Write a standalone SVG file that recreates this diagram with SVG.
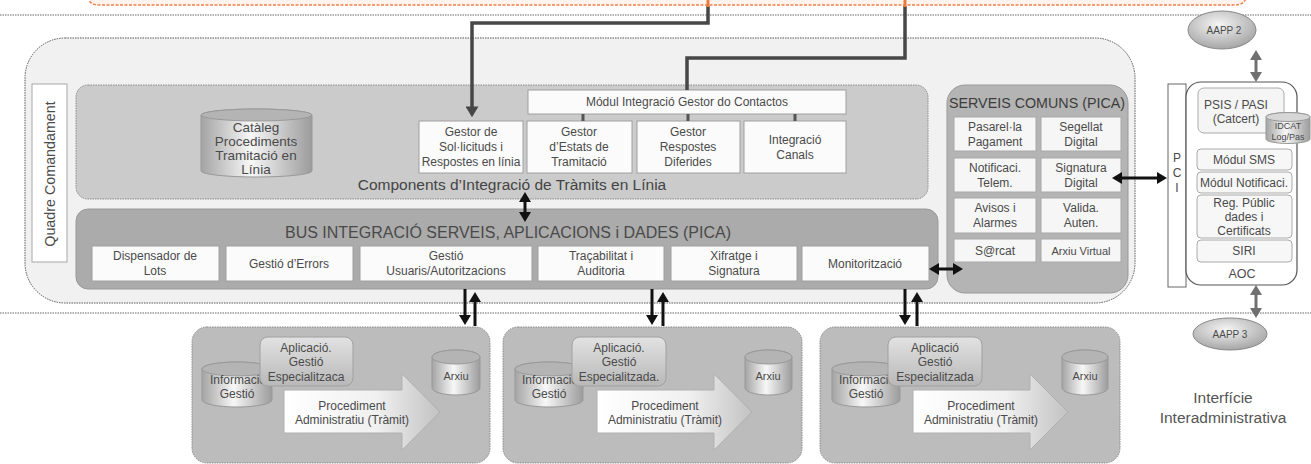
<svg xmlns="http://www.w3.org/2000/svg" width="1311" height="464" viewBox="0 0 1311 464">
<defs>
<style>
text{font-family:"Liberation Sans",Arial,sans-serif;fill:#4a4a4a;text-anchor:middle;font-size:12px}
.f11{font-size:11px}
.f9{font-size:9px}
.box{fill:#fbfbfb;stroke:#a0a0a0;stroke-width:1}
.sbox{fill:#f6f6f6;stroke:#a8a8a8;stroke-width:1}
.sep{stroke:#9a9a9a;stroke-width:1.5;stroke-dasharray:1.5 1;fill:none}
.conn{fill:none;stroke:#474747;stroke-width:3.5}
.arr{fill:none;stroke:#111;stroke-width:3}
.garr{fill:none;stroke:#707070;stroke-width:3}
.cyl{fill:url(#cyl);stroke:#999;stroke-width:1}
.cyltop{fill:#b4b4b4;stroke:#999;stroke-width:1}
.panel{fill:#bcbcbc;stroke:#8a8a8a;stroke-width:1;stroke-dasharray:1.5 1}
</style>
<linearGradient id="cyl" x1="0" x2="1" y1="0" y2="0">
<stop offset="0" stop-color="#a4a4a4"/><stop offset="0.45" stop-color="#f7f7f7"/><stop offset="1" stop-color="#9c9c9c"/>
</linearGradient>
<linearGradient id="big" x1="0" x2="1" y1="0" y2="0">
<stop offset="0" stop-color="#ffffff"/><stop offset="0.6" stop-color="#f0f0f0"/><stop offset="1" stop-color="#c2c2c2"/>
</linearGradient>
<linearGradient id="app" x1="0" x2="0" y1="0" y2="1">
<stop offset="0" stop-color="#e2e2e2"/><stop offset="1" stop-color="#b8b8b8"/>
</linearGradient>
<radialGradient id="ell" cx="0.45" cy="0.35" r="0.75">
<stop offset="0" stop-color="#f5f5f5"/><stop offset="1" stop-color="#9a9a9a"/>
</radialGradient>
<marker id="ah" viewBox="0 0 10 12" refX="7" refY="6" markerWidth="10" markerHeight="12" markerUnits="userSpaceOnUse" orient="auto-start-reverse"><path d="M0,0 L10,6 L0,12 z" fill="#111"/></marker>
<marker id="ahd" viewBox="0 0 10 12" refX="7" refY="6" markerWidth="11" markerHeight="13" markerUnits="userSpaceOnUse" orient="auto-start-reverse"><path d="M0,0 L10,6 L0,12 z" fill="#474747"/></marker>
<marker id="ahg" viewBox="0 0 10 12" refX="7" refY="6" markerWidth="10" markerHeight="12" markerUnits="userSpaceOnUse" orient="auto-start-reverse"><path d="M0,0 L10,6 L0,12 z" fill="#707070"/></marker>
</defs>

<rect x="0" y="0" width="1311" height="464" fill="#ffffff"/>

<g id="top-region">
<path d="M88,-12 V-4 Q88,5 100,5 H1234 Q1246,5 1246,-4 V-12 Z" fill="#fff3ee" stroke="#f0804a" stroke-width="1.5" stroke-dasharray="3 1.5"/>
</g>

<g id="separators">
<line class="sep" x1="0" y1="15" x2="1311" y2="15"/>
<line class="sep" x1="0" y1="313" x2="1311" y2="313"/>
</g>

<g id="main-panel">
<rect x="25" y="38" width="1110" height="265" rx="40" fill="#f1f1f1" stroke="#555" stroke-width="1" stroke-dasharray="1.5 1"/>
</g>

<g id="quadre-comandament">
<rect x="32" y="84" width="35" height="178" fill="#ffffff" stroke="#a8a8a8"/>
<text transform="translate(55,174) rotate(-90)" style="font-size:14.3px">Quadre Comandament</text>
</g>

<g id="components">
<rect x="76" y="85" width="852" height="114" rx="12" fill="#cbcbcb" stroke="#8a8a8a" stroke-dasharray="1.5 1"/>
<text x="512" y="190" style="font-size:15.5px;fill:#444">Components d’Integració de Tràmits en Línia</text>
</g>

<g id="cataleg">
<path class="cyl" d="M201,115 A55.5,6 0 0 1 312,115 V171 A55.5,6 0 0 1 201,171 Z"/>
<ellipse class="cyltop" cx="256.5" cy="115" rx="55.5" ry="6"/>
<text x="256" y="132" style="font-size:13.5px">Catàleg</text>
<text x="256" y="146" style="font-size:13.5px">Procediments</text>
<text x="256" y="160" style="font-size:13.5px">Tramitació en</text>
<text x="256" y="174" style="font-size:13.5px">Línia</text>
</g>

<g id="modul-contactos">
<rect class="box" x="528" y="90" width="318" height="24"/>
<text x="687" y="106">Módul Integració Gestor do Contactos</text>
</g>

<g id="gestor-sollicituds">
<rect class="box" x="419" y="121" width="104" height="52"/>
<text x="471" y="136">Gestor de</text>
<text x="471" y="151">Sol·licituds i</text>
<text x="471" y="166">Respostes en línia</text>
</g>
<g id="gestor-estats">
<rect class="box" x="527" y="121" width="105" height="52"/>
<text x="579" y="136">Gestor</text>
<text x="579" y="151">d’Estats de</text>
<text x="579" y="166">Tramitació</text>
</g>
<g id="gestor-respostes">
<rect class="box" x="637" y="121" width="103" height="52"/>
<text x="688" y="136">Gestor</text>
<text x="688" y="151">Respostes</text>
<text x="688" y="166">Diferides</text>
</g>
<g id="integracio-canals">
<rect class="box" x="744" y="121" width="102" height="52"/>
<text x="795" y="144">Integració</text>
<text x="795" y="159">Canals</text>
</g>

<g id="bus">
<rect x="76" y="209" width="862" height="80" rx="12" fill="#ababab" stroke="#999"/>
<text x="508" y="238" style="font-size:16px;fill:#4a4a4a">BUS INTEGRACIÓ SERVEIS, APLICACIONS  i DADES (PICA)</text>
</g>
<g id="dispensador">
<rect class="box" x="92" y="246" width="127" height="35"/>
<text x="155" y="260">Dispensador de</text>
<text x="155" y="275">Lots</text>
</g>
<g id="gestio-errors">
<rect class="box" x="226" y="246" width="127" height="35"/>
<text x="289" y="268">Gestió d’Errors</text>
</g>
<g id="gestio-usuaris">
<rect class="box" x="360" y="246" width="172" height="35"/>
<text x="446" y="260">Gestió</text>
<text x="446" y="275">Usuaris/Autoritzacions</text>
</g>
<g id="tracabilitat">
<rect class="box" x="538" y="246" width="126" height="35"/>
<text x="601" y="260">Traçabilitat i</text>
<text x="601" y="275">Auditoria</text>
</g>
<g id="xifratge">
<rect class="box" x="671" y="246" width="126" height="35"/>
<text x="734" y="260">Xifratge i</text>
<text x="734" y="275">Signatura</text>
</g>
<g id="monitoritzacio">
<rect class="box" x="802" y="246" width="127" height="35"/>
<text x="865" y="268">Monitorització</text>
</g>

<g id="serveis-comuns">
<rect x="947" y="85" width="181" height="208" rx="18" fill="#b4b4b4" stroke="#999"/>
<text x="1037" y="108" style="font-size:14.3px;fill:#3c3c3c">SERVEIS COMUNS (PICA)</text>
</g>
<g id="pasarella">
<rect class="sbox" x="954" y="117" width="82" height="34"/>
<text x="995" y="131">Pasarel·la</text><text x="995" y="146">Pagament</text>
</g>
<g id="segellat">
<rect class="sbox" x="1041" y="117" width="80" height="34"/>
<text x="1081" y="131">Segellat</text><text x="1081" y="146">Digital</text>
</g>
<g id="notificaci">
<rect class="sbox" x="954" y="158" width="82" height="34"/>
<text x="995" y="172">Notificaci.</text><text x="995" y="187">Telem.</text>
</g>
<g id="signatura">
<rect class="sbox" x="1041" y="158" width="80" height="34"/>
<text x="1081" y="172">Signatura</text><text x="1081" y="187">Digital</text>
</g>
<g id="avisos">
<rect class="sbox" x="954" y="198" width="82" height="35"/>
<text x="995" y="212">Avisos i</text><text x="995" y="227">Alarmes</text>
</g>
<g id="valida">
<rect class="sbox" x="1041" y="198" width="80" height="35"/>
<text x="1081" y="212">Valida.</text><text x="1081" y="227">Auten.</text>
</g>
<g id="sarcat">
<rect class="sbox" x="954" y="239" width="82" height="23"/>
<text x="995" y="255">S@rcat</text>
</g>
<g id="arxiu-virtual">
<rect class="sbox" x="1041" y="239" width="80" height="23"/>
<text x="1081" y="255" class="f11">Arxiu Virtual</text>
</g>

<g id="pci">
<rect x="1168" y="84" width="18" height="203" fill="#ffffff" stroke="#666"/>
<text x="1177" y="162">P</text>
<text x="1177" y="177">C</text>
<text x="1177" y="192">I</text>
</g>

<g id="aoc">
<rect x="1186" y="82" width="111" height="203" rx="15" fill="#ffffff" stroke="#555" stroke-width="1.2"/>
<text x="1242" y="278" style="font-size:12.5px">AOC</text>
</g>
<g id="psis-pasi">
<rect x="1198" y="88" width="86" height="45" rx="6" fill="#f5f5f5" stroke="#aaa"/>
<text x="1236" y="109">PSIS / PASI</text>
<text x="1236" y="123">(Catcert)</text>
</g>
<g id="idcat">
<path class="cyl" d="M1266,117 A22,4.5 0 0 1 1310,117 V139 A22,4.5 0 0 1 1266,139 Z"/>
<ellipse cx="1288" cy="117" rx="22" ry="4.5" fill="#d6d6d6" stroke="#999"/>
<text x="1288" y="129" class="f9">IDCAT</text>
<text x="1288" y="140" class="f9">Log/Pas</text>
</g>
<g id="modul-sms">
<rect x="1197" y="149" width="95" height="21" rx="4" fill="#f7f7f7" stroke="#aaa"/>
<text x="1244" y="164">Módul SMS</text>
</g>
<g id="modul-notificaci">
<rect x="1197" y="172" width="95" height="21" rx="4" fill="#f7f7f7" stroke="#aaa"/>
<text x="1244" y="187">Módul Notificaci.</text>
</g>
<g id="reg-public">
<rect x="1197" y="195" width="95" height="43" rx="4" fill="#f7f7f7" stroke="#aaa"/>
<text x="1244" y="207">Reg. Públic</text>
<text x="1244" y="221">dades i</text>
<text x="1244" y="235">Certificats</text>
</g>
<g id="siri">
<rect x="1197" y="240" width="95" height="22" rx="4" fill="#f7f7f7" stroke="#aaa"/>
<text x="1244" y="255">SIRI</text>
</g>

<g id="aapp2">
<ellipse cx="1222" cy="30" rx="34" ry="19" fill="url(#ell)" stroke="#888"/>
<text x="1224" y="34" style="font-size:10px">AAPP 2</text>
</g>
<g id="aapp3">
<ellipse cx="1230" cy="334" rx="37" ry="16" fill="url(#ell)" stroke="#888"/>
<text x="1230" y="338" style="font-size:10px">AAPP 3</text>
</g>

<g id="interficie">
<text x="1223" y="403" style="font-size:15.5px;fill:#555">Interfície</text>
<text x="1223" y="423" style="font-size:15.5px;fill:#555">Interadministrativa</text>
</g>

<g id="app-panel-1" transform="translate(192,0)">
<rect class="panel" x="0" y="327" width="298" height="136" rx="15"/>
<path class="cyl" d="M10,369 A35,7 0 0 1 80,369 V400 A35,7 0 0 1 10,400 Z"/>
<ellipse class="cyltop" cx="45" cy="369" rx="35" ry="7"/>
<text x="46" y="384">Informació</text>
<text x="45" y="398">Gestió</text>
<rect x="68" y="337" width="93" height="49" rx="8" fill="url(#app)" stroke="#a0a0a0"/>
<text x="114" y="352">Aplicació.</text>
<text x="114" y="366">Gestió</text>
<text x="114" y="381">Especialitzaca</text>
<path d="M92,390 H210 V374 L248,412 L210,450 V433 H92 Z" fill="url(#big)" stroke="#b0b0b0"/>
<text x="160" y="410">Procediment</text>
<text x="160" y="424">Administratiu (Tràmit)</text>
<path class="cyl" d="M240,357 A24,7 0 0 1 288,357 V388 A24,7 0 0 1 240,388 Z"/>
<ellipse class="cyltop" cx="264" cy="357" rx="24" ry="7"/>
<text x="264" y="380" class="f11">Arxiu</text>
</g>

<g id="app-panel-2" transform="translate(503,0)">
<rect class="panel" x="0" y="327" width="299" height="136" rx="15"/>
<path class="cyl" d="M12,369 A34,7 0 0 1 80,369 V400 A34,7 0 0 1 12,400 Z"/>
<ellipse class="cyltop" cx="46" cy="369" rx="34" ry="7"/>
<text x="47" y="384">Informació</text>
<text x="46" y="398">Gestió</text>
<rect x="69" y="337" width="94" height="49" rx="8" fill="url(#app)" stroke="#a0a0a0"/>
<text x="116" y="352">Aplicació.</text>
<text x="116" y="366">Gestió</text>
<text x="116" y="381">Especialitzada.</text>
<path d="M94,390 H211 V374 L249,412 L211,450 V433 H94 Z" fill="url(#big)" stroke="#b0b0b0"/>
<text x="162" y="410">Procediment</text>
<text x="162" y="424">Administratiu (Tràmit)</text>
<path class="cyl" d="M242,357 A23.5,7 0 0 1 289,357 V388 A23.5,7 0 0 1 242,388 Z"/>
<ellipse class="cyltop" cx="265.5" cy="357" rx="23.5" ry="7"/>
<text x="265" y="380" class="f11">Arxiu</text>
</g>

<g id="app-panel-3" transform="translate(820,0)">
<rect class="panel" x="0" y="327" width="300" height="136" rx="15"/>
<path class="cyl" d="M12,369 A34,7 0 0 1 80,369 V400 A34,7 0 0 1 12,400 Z"/>
<ellipse class="cyltop" cx="46" cy="369" rx="34" ry="7"/>
<text x="47" y="384">Informació</text>
<text x="46" y="398">Gestió</text>
<rect x="68" y="337" width="94" height="49" rx="8" fill="url(#app)" stroke="#a0a0a0"/>
<text x="115" y="352">Aplicació</text>
<text x="115" y="366">Gestió</text>
<text x="115" y="381">Especialitzada</text>
<path d="M93,390 H210 V374 L248,412 L210,450 V433 H93 Z" fill="url(#big)" stroke="#b0b0b0"/>
<text x="161" y="410">Procediment</text>
<text x="161" y="424">Administratiu (Tràmit)</text>
<path class="cyl" d="M242,357 A23,7 0 0 1 288,357 V388 A23,7 0 0 1 242,388 Z"/>
<ellipse class="cyltop" cx="265" cy="357" rx="23" ry="7"/>
<text x="265" y="380" class="f11">Arxiu</text>
</g>

<g id="connectors">
<path class="conn" d="M708,6 V23 H472 V114" marker-end="url(#ahd)"/>
<path class="conn" d="M905,6 V58 H687 V90"/>
<line x1="708" y1="0" x2="708" y2="7" stroke="#f07a3c" stroke-width="3"/>
<line x1="905" y1="0" x2="905" y2="7" stroke="#f07a3c" stroke-width="3"/>
<path d="M583,114 V121 M688,114 V121 M795,114 V121" stroke="#555" stroke-width="3" fill="none"/>
<line class="arr" x1="525" y1="195" x2="525" y2="219" marker-start="url(#ah)" marker-end="url(#ah)"/>
<line class="arr" x1="932" y1="269" x2="960" y2="269" marker-start="url(#ah)" marker-end="url(#ah)"/>
<line class="arr" x1="1115" y1="178" x2="1164" y2="178" marker-start="url(#ah)" marker-end="url(#ah)"/>
<line class="garr" x1="1256" y1="53" x2="1256" y2="79" marker-start="url(#ahg)" marker-end="url(#ahg)"/>
<line class="garr" x1="1256" y1="288" x2="1256" y2="315" marker-start="url(#ahg)" marker-end="url(#ahg)"/>
<line class="arr" x1="465" y1="289" x2="465" y2="322" marker-end="url(#ah)"/>
<line class="arr" x1="475" y1="326" x2="475" y2="295" marker-end="url(#ah)"/>
<line class="arr" x1="652" y1="289" x2="652" y2="322" marker-end="url(#ah)"/>
<line class="arr" x1="663" y1="326" x2="663" y2="295" marker-end="url(#ah)"/>
<line class="arr" x1="905" y1="289" x2="905" y2="322" marker-end="url(#ah)"/>
<line class="arr" x1="917" y1="326" x2="917" y2="295" marker-end="url(#ah)"/>
</g>
</svg>
